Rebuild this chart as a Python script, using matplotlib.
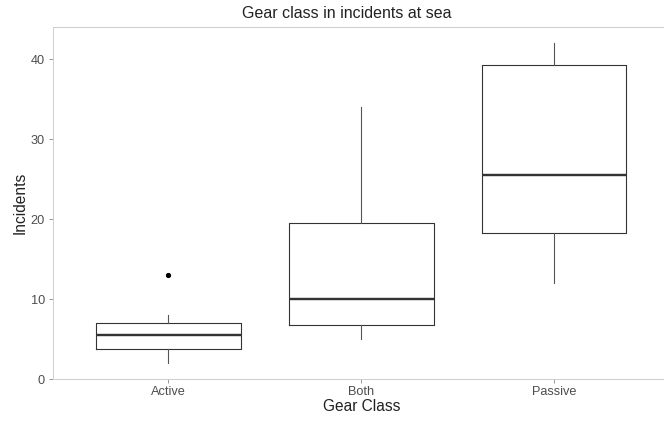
import matplotlib
matplotlib.use("Agg")
import matplotlib.pyplot as plt

plt.rcParams['font.family'] = ['Liberation Sans', 'DejaVu Sans']

categories = ["Active", "Both", "Passive"]
whisker_low = [2, 5, 12]
q1 = [3.75, 6.75, 18.25]
median = [5.5, 10, 25.5]
q3 = [7, 19.5, 39.25]
whisker_high = [8, 34, 42]
outliers = [[13], [], []]
y_ticks = [0, 10, 20, 30, 40]

W, H, DPI = 664, 423, 72
fig = plt.figure(figsize=(W / DPI, H / DPI), dpi=DPI)
left, right, bottom, top = 52.85, 669.6, 379.0, 27.3
ax = fig.add_axes([left / W, (H - bottom) / H, (right - left) / W, (bottom - top) / H])

stats = []
for i, c in enumerate(categories):
    stats.append(dict(label=c, whislo=whisker_low[i], q1=q1[i], med=median[i],
                      q3=q3[i], whishi=whisker_high[i], fliers=outliers[i]))

line_col = '#333333'
ax.bxp(stats, positions=[1, 2, 3], widths=0.75, showcaps=False,
       boxprops=dict(color=line_col, linewidth=1.1),
       whiskerprops=dict(color='#555555', linewidth=1.1),
       medianprops=dict(color=line_col, linewidth=2.4),
       flierprops=dict(marker='o', markerfacecolor='black', markeredgecolor='black',
                       markersize=4.2, linestyle='none'))

ax.set_xlim(0.4, 3.6)
ax.set_ylim(0, 44)
ax.set_yticks(y_ticks)
ax.set_xticks([1, 2, 3])
ax.set_xticklabels(categories)

for s in ax.spines.values():
    s.set_color('#cfcfcf')
    s.set_linewidth(1.0)

ax.tick_params(axis='both', colors='#999999', length=4, width=1, labelsize=12.8,
               labelcolor='#4d4d4d')
ax.tick_params(axis='y', pad=4)
ax.tick_params(axis='x', pad=3)

ax.set_xlabel("Gear Class", fontsize=15.5, color='#222222', labelpad=1)
ax.set_ylabel("Incidents", fontsize=15.5, color='#222222', labelpad=3)
fig.text(347 / W, 1 - 14 / H, "Gear class in incidents at sea", fontsize=16,
         ha='center', va='center', color='#222222')

fig.savefig("out.png", dpi=DPI)
